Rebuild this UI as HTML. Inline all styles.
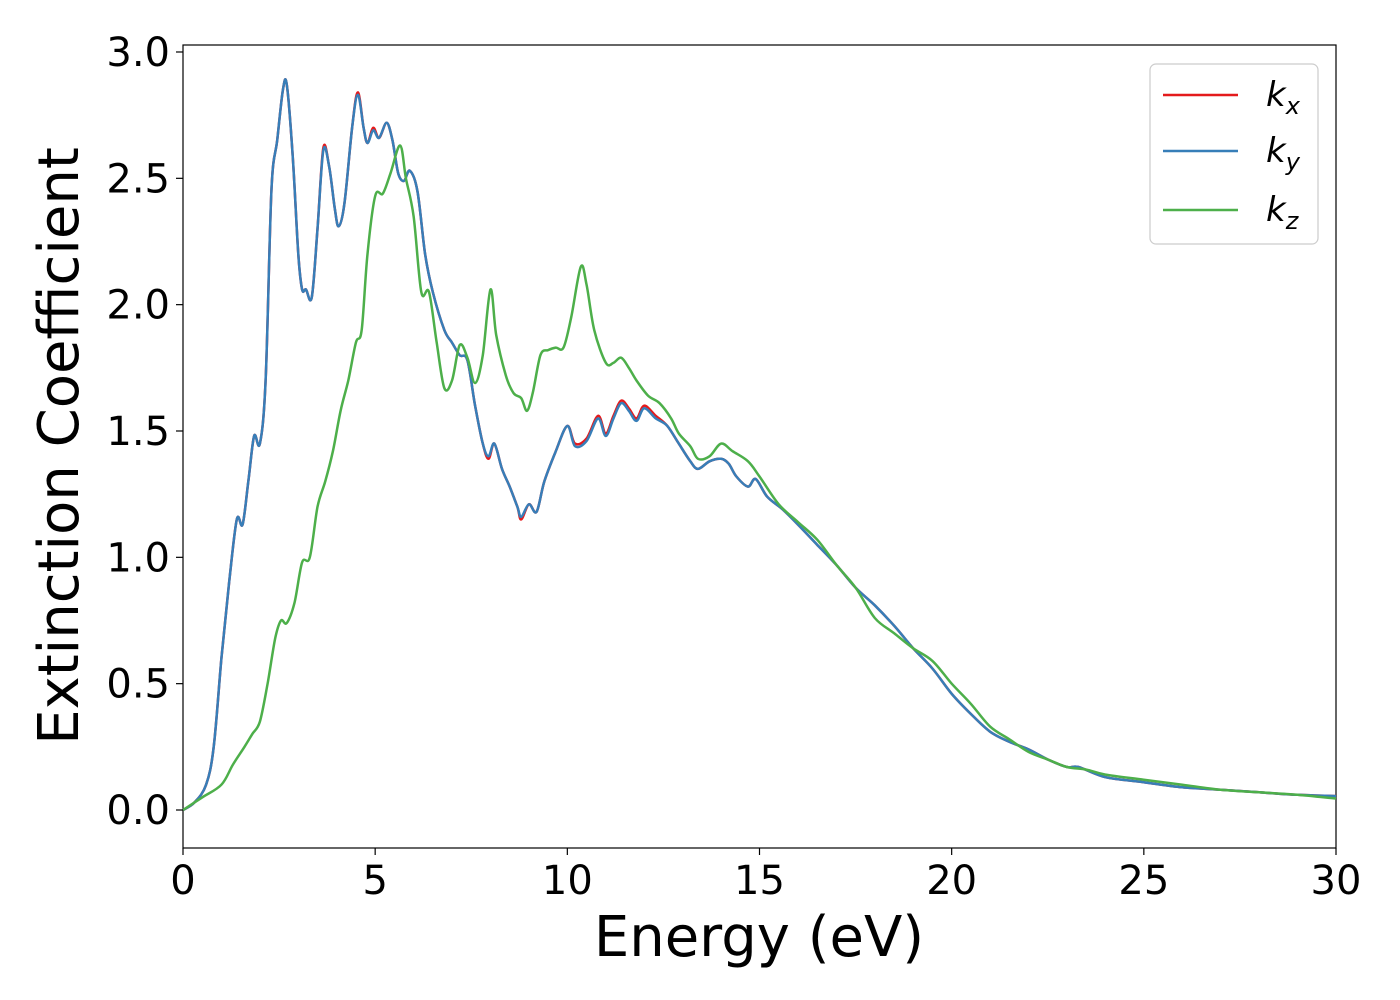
<!DOCTYPE html>
<html><head><meta charset="utf-8"><style>
body{margin:0;background:#fff;}
svg{display:block;font-family:"DejaVu Sans","Liberation Sans",sans-serif;}
</style></head><body>
<svg id="chart" width="1400" height="1000">
<rect x="183" y="45" width="1153" height="803" fill="#fff" stroke="#000" stroke-width="1.2"/>
<g id="series"></g>
<g id="axes"></g>
<text x="759" y="956" font-size="56" text-anchor="middle">Energy (eV)</text>
<text transform="translate(78,446) rotate(-90)" font-size="56" text-anchor="middle">Extinction Coefficient</text>
<g>
<rect x="1150" y="64" width="168" height="180" rx="6" fill="#fff" stroke="#ccc" stroke-width="1.2"/>
<line x1="1163" y1="95" x2="1238" y2="95" stroke="#e41a1c" stroke-width="2.5"/>
<text x="1266" y="106" font-size="34" font-style="italic">k<tspan font-size="24" dy="8">x</tspan></text>
<line x1="1163" y1="151" x2="1238" y2="151" stroke="#377eb8" stroke-width="2.5"/>
<text x="1266" y="162" font-size="34" font-style="italic">k<tspan font-size="24" dy="8">y</tspan></text>
<line x1="1163" y1="210" x2="1238" y2="210" stroke="#4daf4a" stroke-width="2.5"/>
<text x="1266" y="221" font-size="34" font-style="italic">k<tspan font-size="24" dy="8">z</tspan></text>
</g>
</svg>
<script>
const xTicks=[0,5,10,15,20,25,30];
const yTicks=[0.0,0.5,1.0,1.5,2.0,2.5,3.0];
const energyXY=[0,0.3,0.6,0.8,1.0,1.2,1.4,1.55,1.7,1.85,2.0,2.15,2.3,2.45,2.6,2.7,2.85,3.0,3.1,3.2,3.35,3.5,3.65,3.8,3.95,4.05,4.2,4.4,4.55,4.7,4.8,4.95,5.1,5.3,5.45,5.6,5.75,5.9,6.1,6.3,6.5,6.8,7.0,7.2,7.4,7.6,7.8,7.95,8.1,8.3,8.5,8.7,8.8,9.0,9.2,9.4,9.7,10.0,10.2,10.5,10.8,11.0,11.2,11.4,11.6,11.8,12.0,12.3,12.6,12.9,13.2,13.4,13.7,14.0,14.2,14.4,14.7,14.9,15.2,15.6,16,16.5,17,17.5,18,18.5,19,19.5,20,20.5,21,21.5,22,22.5,23,23.3,24,25,26,27,28,29,30];
const kx=[0,0.03,0.1,0.25,0.6,0.9,1.15,1.13,1.3,1.48,1.45,1.7,2.45,2.65,2.85,2.87,2.6,2.2,2.06,2.06,2.03,2.3,2.62,2.55,2.38,2.31,2.4,2.7,2.84,2.7,2.64,2.7,2.66,2.72,2.65,2.52,2.49,2.53,2.45,2.2,2.05,1.9,1.85,1.8,1.78,1.6,1.45,1.39,1.45,1.35,1.28,1.2,1.15,1.21,1.18,1.3,1.42,1.52,1.45,1.47,1.56,1.49,1.56,1.62,1.59,1.55,1.6,1.56,1.52,1.45,1.38,1.35,1.38,1.39,1.37,1.32,1.28,1.31,1.24,1.19,1.13,1.05,0.97,0.88,0.81,0.73,0.64,0.56,0.46,0.38,0.31,0.27,0.24,0.2,0.17,0.17,0.13,0.11,0.09,0.08,0.07,0.06,0.055];
const ky=[0,0.03,0.1,0.25,0.6,0.9,1.15,1.13,1.3,1.48,1.45,1.7,2.45,2.65,2.85,2.87,2.6,2.2,2.06,2.06,2.03,2.3,2.61,2.55,2.38,2.31,2.4,2.7,2.83,2.7,2.64,2.69,2.66,2.72,2.65,2.52,2.49,2.53,2.45,2.2,2.05,1.9,1.85,1.8,1.78,1.6,1.45,1.4,1.45,1.35,1.28,1.2,1.16,1.21,1.18,1.3,1.42,1.52,1.44,1.46,1.55,1.48,1.55,1.61,1.58,1.54,1.59,1.55,1.52,1.45,1.38,1.35,1.38,1.39,1.37,1.32,1.28,1.31,1.24,1.19,1.13,1.05,0.97,0.88,0.81,0.73,0.64,0.56,0.46,0.38,0.31,0.27,0.24,0.2,0.17,0.17,0.13,0.11,0.09,0.08,0.07,0.06,0.055];
const energyZ=[0,0.5,1.0,1.3,1.6,1.8,2.0,2.2,2.4,2.55,2.7,2.9,3.1,3.3,3.5,3.7,3.9,4.1,4.3,4.5,4.65,4.8,5.0,5.2,5.4,5.65,5.8,6.0,6.2,6.4,6.6,6.8,7.0,7.2,7.4,7.6,7.8,8.0,8.15,8.4,8.6,8.8,8.95,9.1,9.3,9.5,9.7,9.9,10.1,10.35,10.5,10.7,11.0,11.2,11.4,11.6,11.8,12.1,12.4,12.7,12.9,13.2,13.4,13.7,14.0,14.3,14.7,15.0,15.5,16,16.5,17,17.5,18,18.5,19,19.5,20,20.5,21,21.5,22,22.5,23,23.5,24,25,26,27,28,29,30];
const kz=[0,0.05,0.1,0.18,0.25,0.3,0.35,0.5,0.68,0.75,0.74,0.82,0.98,1.0,1.2,1.3,1.42,1.58,1.7,1.85,1.9,2.2,2.43,2.44,2.52,2.63,2.5,2.35,2.05,2.05,1.85,1.67,1.7,1.84,1.79,1.69,1.8,2.06,1.88,1.72,1.65,1.63,1.58,1.65,1.8,1.82,1.83,1.83,1.95,2.15,2.08,1.9,1.77,1.77,1.79,1.75,1.7,1.64,1.61,1.55,1.49,1.44,1.39,1.4,1.45,1.42,1.38,1.32,1.21,1.14,1.07,0.97,0.88,0.76,0.7,0.64,0.59,0.5,0.42,0.33,0.28,0.23,0.2,0.17,0.16,0.14,0.12,0.1,0.08,0.07,0.06,0.045];

const NS='http://www.w3.org/2000/svg';
const X=v=>183+v*(1153/30);
const Y=v=>810-v*252.67;
function pathD(xs,ys){
  const p=xs.map((x,i)=>[X(x),Y(ys[i])]);
  let d='M'+p[0][0].toFixed(1)+','+p[0][1].toFixed(1);
  for(let i=0;i<p.length-1;i++){
    const p0=p[Math.max(0,i-1)],p1=p[i],p2=p[i+1],p3=p[Math.min(p.length-1,i+2)];
    const c1=[p1[0]+(p2[0]-p0[0])/6,p1[1]+(p2[1]-p0[1])/6];
    const c2=[p2[0]-(p3[0]-p1[0])/6,p2[1]-(p3[1]-p1[1])/6];
    d+=`C${c1[0].toFixed(1)},${c1[1].toFixed(1)} ${c2[0].toFixed(1)},${c2[1].toFixed(1)} ${p2[0].toFixed(1)},${p2[1].toFixed(1)}`;
  }
  return d;
}
const sg=document.getElementById('series');
[[energyXY,kx,'#e41a1c','series-kx'],[energyXY,ky,'#377eb8','series-ky'],[energyZ,kz,'#4daf4a','series-kz']].forEach(s=>{
  const el=document.createElementNS(NS,'path');
  el.setAttribute('d',pathD(s[0],s[1]));
  el.setAttribute('fill','none');el.setAttribute('stroke',s[2]);el.setAttribute('stroke-width','2.5');
  
  
  sg.appendChild(el);
});
const ag=document.getElementById('axes');
xTicks.forEach(t=>{
  const l=document.createElementNS(NS,'line');
  l.setAttribute('x1',X(t));l.setAttribute('x2',X(t));l.setAttribute('y1',848);l.setAttribute('y2',855);l.setAttribute('stroke','#000');l.setAttribute('stroke-width','1.2');
  
  
  ag.appendChild(l);
  const tx=document.createElementNS(NS,'text');
  tx.setAttribute('x',X(t));tx.setAttribute('y',894);tx.setAttribute('font-size','40');tx.setAttribute('text-anchor','middle');
  tx.textContent=t;
  
  
  ag.appendChild(tx);
});
yTicks.forEach(t=>{
  const l=document.createElementNS(NS,'line');
  l.setAttribute('x1',176);l.setAttribute('x2',183);l.setAttribute('y1',Y(t));l.setAttribute('y2',Y(t));l.setAttribute('stroke','#000');l.setAttribute('stroke-width','1.2');
  
  
  ag.appendChild(l);
  const tx=document.createElementNS(NS,'text');
  tx.setAttribute('x',170);tx.setAttribute('y',Y(t)+14);tx.setAttribute('font-size','40');tx.setAttribute('text-anchor','end');
  tx.textContent=t.toFixed(1);
  
  
  ag.appendChild(tx);
});
</script>
</body></html>
